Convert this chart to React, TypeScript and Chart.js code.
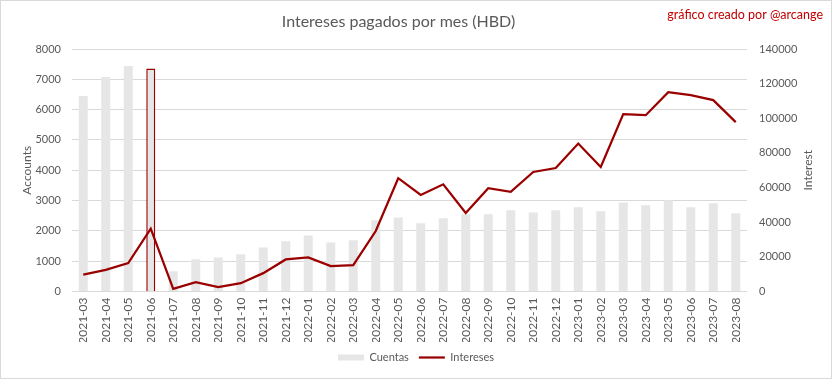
import { useEffect, useRef } from 'react';
import { Chart, registerables } from 'chart.js';

Chart.register(...registerables);

const months = [
  '2021-03', '2021-04', '2021-05', '2021-06', '2021-07', '2021-08', '2021-09', '2021-10', '2021-11', '2021-12',
  '2022-01', '2022-02', '2022-03', '2022-04', '2022-05', '2022-06', '2022-07', '2022-08', '2022-09', '2022-10',
  '2022-11', '2022-12', '2023-01', '2023-02', '2023-03', '2023-04', '2023-05', '2023-06', '2023-07', '2023-08',
];

const cuentas = [
  6450, 7075, 7440, 7360, 670, 1060, 1125, 1225, 1455, 1655,
  1850, 1620, 1690, 2350, 2445, 2250, 2415, 2545, 2545, 2680,
  2610, 2680, 2780, 2645, 2940, 2845, 3010, 2780, 2910, 2580,
];

const intereses = [
  9800, 12500, 16400, 36300, 1500, 5400, 2500, 4800, 10600, 18500,
  19700, 14700, 15200, 34900, 65400, 55700, 61900, 45300, 59600, 57500,
  69000, 71300, 85400, 71900, 102400, 101800, 115100, 113400, 110500, 97800,
];

const highlightMonth = '2021-06';

const TITLE = 'Intereses pagados por mes (HBD)';
const CREDIT = 'gráfico creado por @arcange';
const LEFT_TITLE = 'Accounts';
const RIGHT_TITLE = 'Interest';
const BAR_LABEL = 'Cuentas';
const LINE_LABEL = 'Intereses';

const leftMax = 8000;
const leftStep = 1000;
const rightMax = 140000;
const rightStep = 20000;

const FONT = "Lato, 'Noto Sans', sans-serif";
const TEXT = '#595959';
const GRID = '#d9d9d9';
const BAR_COLOR = '#e6e6e6';
const LINE_COLOR = '#9b0000';
const CREDIT_COLOR = '#c00000';

const decorPlugin = {
  id: 'decor',
  beforeDraw(chart: any) {
    const { ctx, width, height } = chart;
    ctx.save();
    ctx.fillStyle = '#ffffff';
    ctx.fillRect(0, 0, width, height);
    ctx.restore();
  },
  afterDraw(chart: any) {
    const { ctx, width, height, chartArea } = chart;
    ctx.save();
    ctx.strokeStyle = GRID;
    ctx.lineWidth = 1;
    ctx.strokeRect(0.5, 0.5, width - 1, height - 1);

    ctx.fillStyle = TEXT;
    ctx.font = `16px ${FONT}`;
    ctx.textAlign = 'center';
    ctx.textBaseline = 'middle';
    ctx.fillText(TITLE, 398.5, 22);

    ctx.fillStyle = CREDIT_COLOR;
    ctx.font = `12.5px ${FONT}`;
    ctx.textAlign = 'right';
    ctx.fillText(CREDIT, 823, 15);

    ctx.fillStyle = TEXT;
    ctx.font = `12px ${FONT}`;
    ctx.textAlign = 'center';
    ctx.translate(808, (chartArea.top + chartArea.bottom) / 2);
    ctx.rotate(-Math.PI / 2);
    ctx.fillText(RIGHT_TITLE, 0, 0);
    ctx.restore();
  },
};

const plain = (v: any) => String(v);

export default function App() {
  const ref = useRef<HTMLCanvasElement | null>(null);

  useEffect(() => {
    document.body.style.margin = '0';
    const canvas = ref.current;
    if (!canvas) return;
    const chart = new Chart(canvas, {
      type: 'bar',
      data: {
        labels: months,
        datasets: [
          {
            type: 'line',
            label: LINE_LABEL,
            data: intereses,
            yAxisID: 'y1',
            borderColor: LINE_COLOR,
            backgroundColor: LINE_COLOR,
            borderWidth: 2.25,
            pointRadius: 0,
            tension: 0,
            order: 0,
          } as any,
          {
            type: 'bar',
            label: BAR_LABEL,
            data: cuentas,
            yAxisID: 'y',
            backgroundColor: BAR_COLOR,
            borderColor: months.map((m) => (m === highlightMonth ? LINE_COLOR : 'rgba(0,0,0,0)')),
            borderWidth: months.map((m) => (m === highlightMonth ? 1.5 : 0)),
            barPercentage: 0.4,
            categoryPercentage: 1,
            order: 1,
          } as any,
        ],
      },
      options: {
        responsive: false,
        animation: false,
        devicePixelRatio: 1,
        layout: { padding: { top: 49, left: 0, right: 0, bottom: 6 } },
        plugins: {
          title: { display: false },
          tooltip: { enabled: false },
          legend: {
            display: true,
            position: 'bottom',
            labels: {
              color: TEXT,
              font: { size: 11, family: FONT },
              usePointStyle: true,
              pointStyleWidth: 26,
              boxHeight: 6,
              padding: 10,
              generateLabels: () => [
                {
                  text: BAR_LABEL,
                  fillStyle: BAR_COLOR,
                  strokeStyle: BAR_COLOR,
                  lineWidth: 0,
                  pointStyle: 'rect',
                  hidden: false,
                  datasetIndex: 1,
                  fontColor: TEXT,
                } as any,
                {
                  text: LINE_LABEL,
                  fillStyle: LINE_COLOR,
                  strokeStyle: LINE_COLOR,
                  lineWidth: 2.25,
                  pointStyle: 'line',
                  hidden: false,
                  datasetIndex: 0,
                  fontColor: TEXT,
                } as any,
              ],
            },
          },
        },
        scales: {
          x: {
            grid: { display: false, drawTicks: false },
            border: { display: false },
            ticks: {
              autoSkip: false,
              minRotation: 90,
              maxRotation: 90,
              color: TEXT,
              font: { size: 12, family: FONT },
              padding: 6,
            },
            afterFit: (s: any) => {
              s.height = 50.5;
            },
          },
          y: {
            position: 'left',
            min: 0,
            max: leftMax,
            grid: { color: GRID, drawTicks: false },
            border: { display: false },
            ticks: {
              stepSize: leftStep,
              color: TEXT,
              font: { size: 11, family: FONT },
              padding: 11,
              callback: plain,
            },
            title: {
              display: true,
              text: LEFT_TITLE,
              color: TEXT,
              font: { size: 12, family: FONT },
              padding: { top: 20, bottom: 0 },
            },
            afterFit: (s: any) => {
              s.width = 72;
            },
          },
          y1: {
            position: 'right',
            min: 0,
            max: rightMax,
            grid: { display: false, drawTicks: false },
            border: { display: false },
            ticks: {
              stepSize: rightStep,
              color: TEXT,
              font: { size: 11, family: FONT },
              padding: 12,
              callback: plain,
            },
            afterFit: (s: any) => {
              s.width = 85;
            },
          },
        },
      },
      plugins: [decorPlugin],
    });
    return () => chart.destroy();
  }, []);

  return (
    <div style={{ width: 832, height: 379, position: 'relative' }}>
      <canvas ref={ref} width={832} height={379} style={{ display: 'block', width: 832, height: 379 }} />
    </div>
  );
}
